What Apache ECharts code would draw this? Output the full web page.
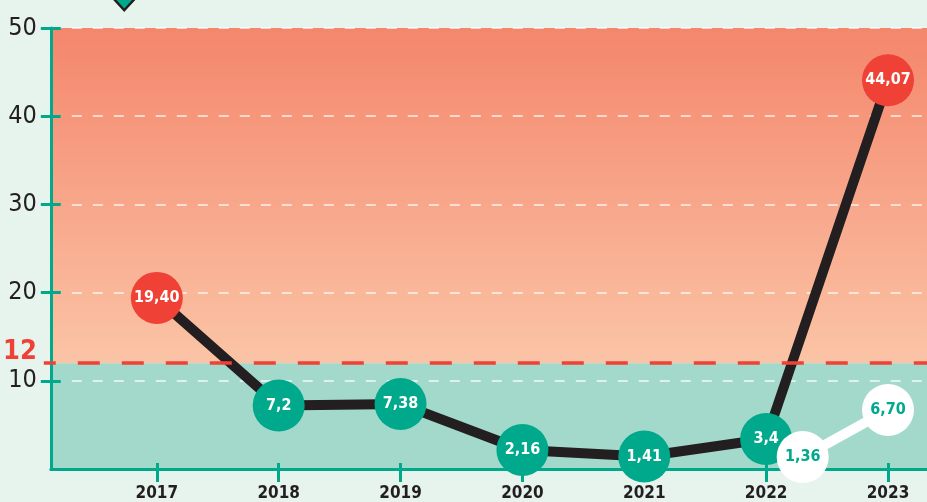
<!DOCTYPE html>
<html>
<head>
<meta charset="utf-8">
<script src="https://cdn.jsdelivr.net/npm/echarts@6/dist/echarts.min.js"></script>
<style>
  html, body { margin: 0; padding: 0; background: #e7f4ee; }
  #chart { width: 927px; height: 502px; }
</style>
</head>
<body>
<div id="chart"></div>
<script>
let years = [2017, 2018, 2019, 2020, 2021, 2022, 2023]
let mainValues = [19.40, 7.2, 7.38, 2.16, 1.41, 3.4, 44.07]
let mainLabels = ['19,40', '7,2', '7,38', '2,16', '1,41', '3,4', '44,07']
let sideYears = [2022.3, 2023]
let sideValues = [1.36, 6.70]
let sideLabels = ['1,36', '6,70']
let yTicks = [10, 20, 30, 40, 50]
let limit = 12

let teal = '#00a98c'
let red = '#ef4136'
let ink = '#231f20'
let font = '"Liberation Sans Narrow", "DejaVu Sans Condensed", sans-serif'

let mainData = years.map((y, i) => ({
  value: [y, mainValues[i]],
  itemStyle: { color: mainValues[i] > limit ? red : teal }
}))
let sideData = sideYears.map((y, i) => [y, sideValues[i]])

let xBase = {
  type: 'value', min: 2016.13, max: 2023.32, position: 'bottom', z: 2,
  splitLine: { show: false }
}
let yBase = {
  type: 'value', min: 0, max: 50, position: 'left', z: 2,
  splitLine: { show: false }
}

let option = {
  backgroundColor: '#e7f4ee',
  animation: false,
  grid: { left: 47, right: 0, top: 28, bottom: 31 },
  xAxis: [
    Object.assign({}, xBase, {
      axisLine: { lineStyle: { color: teal, width: 3 } },
      axisTick: { customValues: years, length: 13, lineStyle: { color: teal, width: 3 } },
      axisLabel: {
        customValues: years, formatter: v => String(Math.round(v)),
        color: ink, fontFamily: font, fontWeight: 'bold', fontSize: 17, margin: 16
      }
    }),
    Object.assign({}, xBase, {
      axisLine: { show: false },
      axisTick: { customValues: years, inside: true, length: 6, lineStyle: { color: teal, width: 3 } },
      axisLabel: { show: false }
    })
  ],
  yAxis: [
    Object.assign({}, yBase, {
      axisLine: { show: true, lineStyle: { color: teal, width: 3 } },
      axisTick: { show: true, customValues: yTicks, length: 10, lineStyle: { color: teal, width: 3 } },
      axisLabel: {
        customValues: yTicks, color: ink, fontFamily: font, fontSize: 25, margin: 14
      },
      splitLine: {
        show: true, customValues: yTicks,
        lineStyle: { color: 'rgba(255,255,255,0.85)', width: 1.5, type: [10, 11] }
      }
    }),
    Object.assign({}, yBase, {
      axisLine: { show: false },
      axisTick: { show: true, customValues: yTicks, inside: true, length: 10, lineStyle: { color: teal, width: 3 } },
      axisLabel: { show: false }
    }),
    Object.assign({}, yBase, {
      axisLine: { show: false },
      axisTick: { show: true, customValues: [limit], length: 7, lineStyle: { color: red, width: 3.5 } },
      axisLabel: {
        customValues: [limit], color: red, fontFamily: font, fontWeight: 'bold',
        fontSize: 27, margin: 14, verticalAlign: 'bottom', lineHeight: 22
      }
    })
  ],
  series: [
    {
      type: 'line', data: [], z: 1, silent: true,
      markArea: {
        silent: true,
        data: [
          [{ yAxis: limit, itemStyle: { color: {
            type: 'linear', x: 0, y: 0, x2: 0, y2: 1,
            colorStops: [{ offset: 0, color: '#f4866c' }, { offset: 1, color: '#fbc4a6' }]
          } } }, { yAxis: 50 }],
          [{ yAxis: 0, itemStyle: { color: '#a3d9cb' } }, { yAxis: limit }]
        ]
      },
      markLine: {
        silent: true, symbol: 'none', label: { show: false },
        lineStyle: { color: red, width: 3.5, type: [22, 22], dashOffset: 17 },
        data: [{ yAxis: limit }]
      }
    },
    {
      name: 'main', type: 'line', data: mainData,
      lineStyle: { color: ink, width: 10 },
      symbol: 'circle', symbolSize: 52,
      label: {
        show: true, position: 'inside', color: '#fff', fontFamily: font,
        fontWeight: 'bold', fontSize: 16,
        formatter: p => mainLabels[p.dataIndex]
      },
      z: 3
    },
    {
      name: 'side', type: 'line', data: sideData,
      lineStyle: { color: '#fff', width: 10 },
      symbol: 'circle', symbolSize: 52,
      itemStyle: { color: '#fff' },
      label: {
        show: true, position: 'inside', color: teal, fontFamily: font,
        fontWeight: 'bold', fontSize: 16,
        formatter: p => sideLabels[p.dataIndex]
      },
      z: 4
    }
  ],
  graphic: [{
    type: 'polygon', left: 112, top: -3,
    shape: { points: [[0, 0], [11, 12], [22, 0]] },
    style: { fill: teal, stroke: ink, lineWidth: 2.5 }
  }]
}

let oChart = echarts.init(document.getElementById('chart'))
oChart.setOption(option)
</script>
</body>
</html>
